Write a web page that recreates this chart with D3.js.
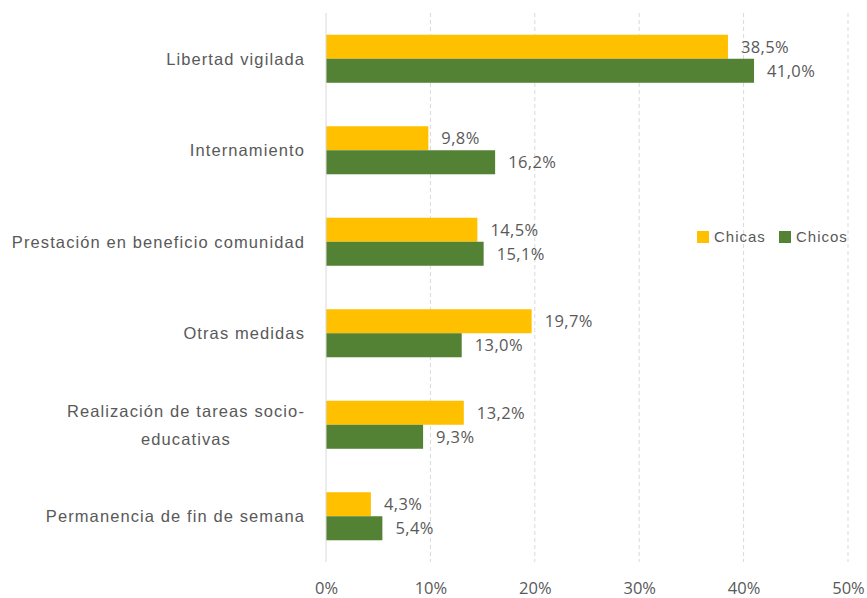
<!DOCTYPE html>
<html>
<head>
<meta charset="utf-8">
<script src="https://cdn.jsdelivr.net/npm/d3@7"></script>
<style>
  body { margin: 0; background: #fff; }
  svg { display: block; }
</style>
</head>
<body>
<svg id="chart" width="867" height="598"></svg>
<script>
// data
var categories = [
    ["Libertad vigilada"],
    ["Internamiento"],
    ["Prestación en beneficio comunidad"],
    ["Otras medidas"],
    ["Realización de tareas socio-", "educativas"],
    ["Permanencia de fin de semana"]
];
var seriesNames = ["Chicas", "Chicos"];
var chicas = [38.5, 9.8, 14.5, 19.7, 13.2, 4.3];
var chicos = [41.0, 16.2, 15.1, 13.0, 9.3, 5.4];
var xTicks = [0, 10, 20, 30, 40, 50];

var COLORS = { "Chicas": "#FFC000", "Chicos": "#548235" };
var TEXT = "#595959";

// plot box (note: "top" is reserved on window)
var plotLeft = 326, plotRight = 848, plotTop = 13, plotBottom = 562;

var svg = d3.select("#chart");

var x = d3.scaleLinear().domain([0, 50]).range([plotLeft, plotRight]);
var y = d3.scaleBand()
    .domain(d3.range(categories.length))
    .range([plotTop, plotBottom])
    .paddingInner(0.475)
    .paddingOuter(0.2375);
var ySub = d3.scaleBand().domain(seriesNames).range([0, y.bandwidth()]);

// grid
svg.append("g")
    .selectAll("line")
    .data(xTicks.slice(1))
    .enter()
    .append("line")
    .attr("x1", function(d) { return x(d); })
    .attr("x2", function(d) { return x(d); })
    .attr("y1", plotTop)
    .attr("y2", plotBottom)
    .style("stroke", "#d9d9d9")
    .style("stroke-width", 1)
    .style("stroke-dasharray", "4,3");

// x axis labels
var xAxis = svg.append("g")
    .attr("class", "x-axis")
    .attr("transform", "translate(0 " + plotBottom + ")")
    .call(d3.axisBottom(x).tickValues(xTicks).tickSize(0).tickPadding(20)
        .tickFormat(function(d) { return d + "%"; }));
xAxis.select(".domain").remove();
xAxis.selectAll("text")
    .style("font-family", "'Open Sans', sans-serif")
    .style("font-size", "16.5px")
    .style("fill", TEXT);

// bars
var rows = categories.map(function(c, i) {
    return { i: i, values: [
        { key: "Chicas", v: chicas[i] },
        { key: "Chicos", v: chicos[i] }
    ] };
});

var groups = svg.append("g")
    .selectAll("g.row")
    .data(rows)
    .enter()
    .append("g")
    .attr("class", "row")
    .attr("transform", function(d) { return "translate(0 " + y(d.i) + ")"; });

groups.selectAll("rect")
    .data(function(d) { return d.values; })
    .enter()
    .append("rect")
    .attr("x", x(0))
    .attr("y", function(d) { return ySub(d.key); })
    .attr("width", function(d) { return x(d.v) - x(0); })
    .attr("height", ySub.bandwidth())
    .attr("fill", function(d) { return COLORS[d.key]; });

groups.selectAll("text.val")
    .data(function(d) { return d.values; })
    .enter()
    .append("text")
    .attr("class", "val")
    .attr("x", function(d) { return x(d.v) + 13; })
    .attr("y", function(d) { return ySub(d.key) + ySub.bandwidth() / 2; })
    .attr("dy", "0.35em")
    .style("font-family", "'Open Sans', sans-serif")
    .style("font-size", "16.5px")
    .style("letter-spacing", "0.4px")
    .style("fill", TEXT)
    .text(function(d) { return d.v.toFixed(1).replace(".", ",") + "%"; });

// axis line at 0
svg.append("line")
    .attr("x1", x(0)).attr("x2", x(0))
    .attr("y1", plotTop).attr("y2", plotBottom)
    .style("stroke", "#d9d9d9")
    .style("stroke-width", 1);

// category labels, multi-line ones centred as a block, block right-aligned
var labelRight = 305;
categories.forEach(function(lines, i) {
    var cy = y(i) + y.bandwidth() / 2;
    var g = svg.append("g").attr("class", "cat");
    var lh = 28;
    var first = g.append("text")
        .style("font-family", "'Liberation Sans', Arial, sans-serif")
        .style("font-size", "16.5px")
        .style("letter-spacing", "1.1px")
        .style("fill", TEXT)
        .attr("dy", "0.35em")
        .text(lines[0]);
    var w = first.node().getComputedTextLength();
    var cx = labelRight - w / 2;
    var y0 = cy - (lines.length - 1) * lh / 2;
    first.attr("x", cx).attr("y", y0).attr("text-anchor", "middle");
    for (var k = 1; k < lines.length; k++) {
        g.append("text")
            .attr("x", cx)
            .attr("y", y0 + k * lh)
            .attr("dy", "0.35em")
            .attr("text-anchor", "middle")
            .style("font-family", "'Liberation Sans', Arial, sans-serif")
            .style("font-size", "16.5px")
            .style("letter-spacing", "1.1px")
            .style("fill", TEXT)
            .text(lines[k]);
    }
});

// legend
var legend = svg.append("g").attr("transform", "translate(697 237)");
var legX = { "Chicas": 0, "Chicos": 82 };
var items = legend.selectAll("g")
    .data(seriesNames)
    .enter()
    .append("g")
    .attr("transform", function(d) { return "translate(" + legX[d] + " 0)"; });
items.append("rect")
    .attr("x", 0).attr("y", -6)
    .attr("width", 12).attr("height", 12)
    .attr("fill", function(d) { return COLORS[d]; });
items.append("text")
    .attr("x", 17)
    .attr("dy", "0.35em")
    .style("font-family", "'Liberation Sans', Arial, sans-serif")
    .style("font-size", "15px")
    .style("letter-spacing", "1px")
    .style("fill", TEXT)
    .text(function(d) { return d; });
</script>
</body>
</html>
